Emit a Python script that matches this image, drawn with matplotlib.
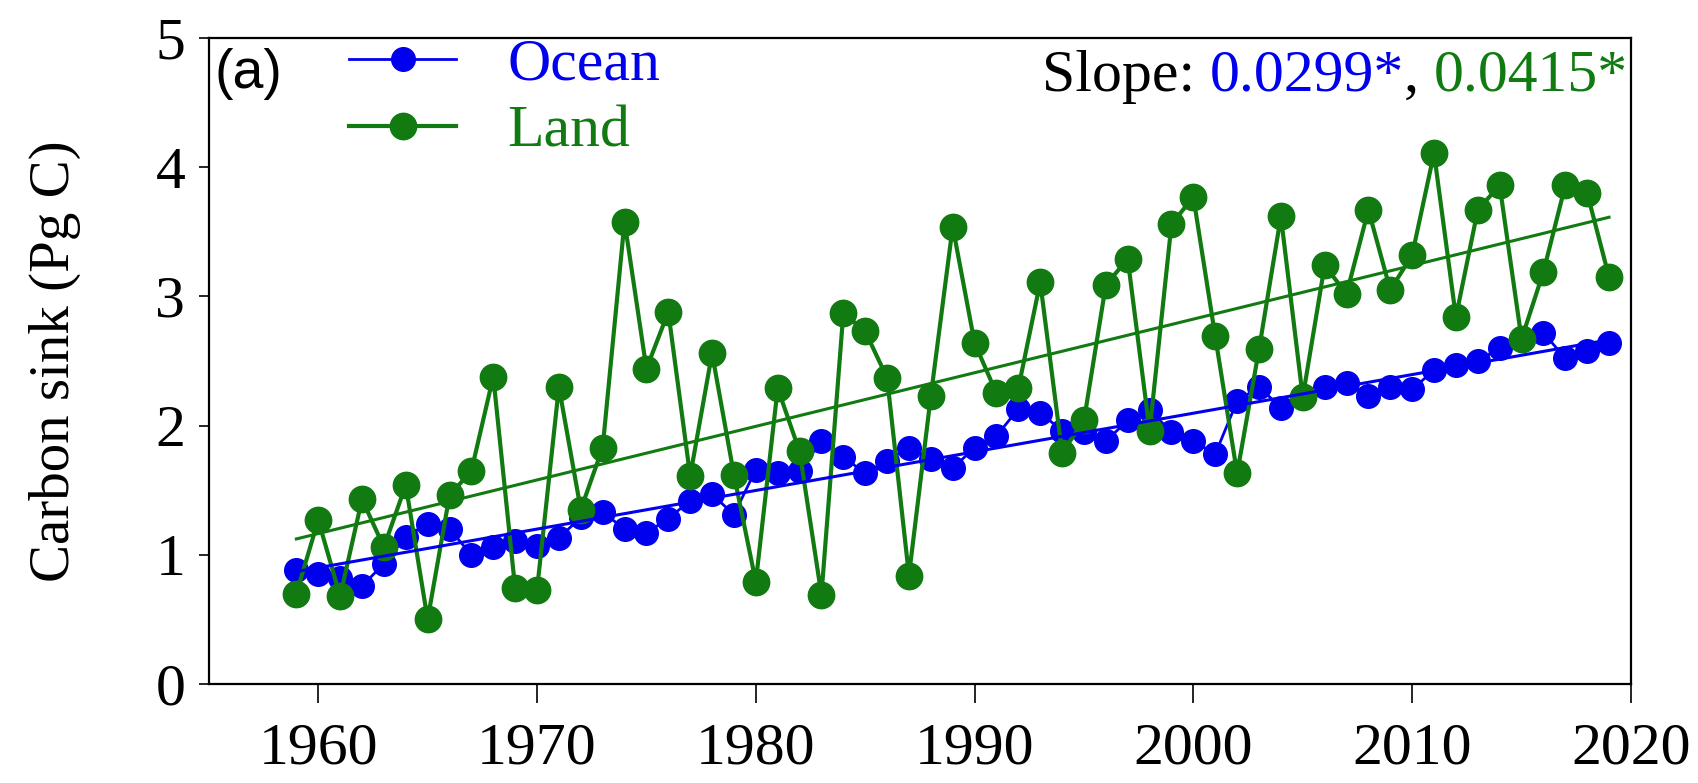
import matplotlib
matplotlib.use("Agg")
import matplotlib.pyplot as plt
import numpy as np

years = np.arange(1959, 2020)

ocean = [0.88, 0.85, 0.82, 0.76, 0.93, 1.14, 1.24, 1.20, 1.00, 1.06,
         1.11, 1.07, 1.13, 1.29, 1.33, 1.20, 1.17, 1.28, 1.42, 1.47,
         1.31, 1.66, 1.63, 1.65, 1.88, 1.76, 1.63, 1.73, 1.83, 1.74,
         1.67, 1.83, 1.92, 2.13, 2.10, 1.96, 1.95, 1.88, 2.04, 2.12,
         1.95, 1.88, 1.78, 2.19, 2.30, 2.14, 2.23, 2.30, 2.33, 2.23,
         2.30, 2.28, 2.43, 2.47, 2.50, 2.60, 2.67, 2.72, 2.52, 2.58,
         2.64]

land = [0.70, 1.27, 0.68, 1.43, 1.06, 1.54, 0.50, 1.46, 1.65, 2.38,
        0.74, 0.73, 2.30, 1.35, 1.83, 3.58, 2.44, 2.88, 1.61, 2.56,
        1.62, 0.79, 2.29, 1.80, 0.69, 2.87, 2.73, 2.37, 0.84, 2.23,
        3.54, 2.64, 2.25, 2.29, 3.11, 1.79, 2.04, 3.09, 3.29, 1.96,
        3.56, 3.77, 2.69, 1.63, 2.59, 3.62, 2.22, 3.24, 3.02, 3.67,
        3.05, 3.32, 4.11, 2.84, 3.67, 3.86, 2.67, 3.19, 3.86, 3.80,
        3.15]

ocean_slope = 0.0299
land_slope = 0.0415

blue = "#0000ee"
green = "#117a11"
fs = 43

plt.rcParams["font.family"] = ["Liberation Serif", "DejaVu Serif"]

fig = plt.figure(figsize=(16.98, 7.83), dpi=100)
ax = fig.add_axes([0.123, 0.1264, 0.8375, 0.825])

ax.plot(years, ocean, "-o", color=blue, lw=2, ms=17, label="Ocean", zorder=3)
ax.plot(years, land, "-o", color=green, lw=3, ms=19, label="Land", zorder=4)

# linear trends through the series means with the reported slopes
for vals, slope, col in [(ocean, ocean_slope, blue), (land, land_slope, green)]:
    ym = np.mean(vals)
    xm = years.mean()
    fit = ym + slope * (years - xm)
    ax.plot(years, fit, "-", color=col, lw=2.2, zorder=5)

ax.set_xlim(1955, 2020)
ax.set_ylim(0, 5)
ax.set_xticks(range(1960, 2021, 10))
ax.set_yticks(range(0, 6))
ax.tick_params(axis="x", direction="out", length=14, width=1.2, pad=14, labelsize=fs)
ax.tick_params(axis="y", direction="out", length=7, width=1.2, pad=10, labelsize=fs)
for s in ax.spines.values():
    s.set_linewidth(1.6)
ax.set_ylabel("Carbon sink (Pg C)", fontsize=41)
ax.yaxis.set_label_coords(-0.09, 0.5)

leg = ax.legend(loc="upper left", bbox_to_anchor=(0.0985, 1.0), frameon=False,
                fontsize=fs, handlelength=1.8, handletextpad=0.85,
                labelspacing=0.2, borderpad=0, borderaxespad=0)
for txt, col in zip(leg.get_texts(), [blue, green]):
    txt.set_color(col)

ax.text(0.004, 0.945, "(a)", transform=ax.transAxes, fontsize=40,
        family=["Liberation Sans", "DejaVu Sans"], ha="left", va="center")

# slope annotation built right to left so each piece keeps its own colour
pieces = [("Slope: ", "black"), (f"{ocean_slope:.4f}*", blue),
          (", ", "black"), (f"{land_slope:.4f}*", green)]
prev = ax.text(0.998, 0.94, pieces[-1][0], transform=ax.transAxes,
               fontsize=fs, color=pieces[-1][1], ha="right", va="center")
for s, col in reversed(pieces[:-1]):
    prev = ax.annotate(s, xy=(0, 0.5), xycoords=prev, fontsize=fs, color=col,
                       ha="right", va="center")

fig.savefig("out.png", dpi=100)
